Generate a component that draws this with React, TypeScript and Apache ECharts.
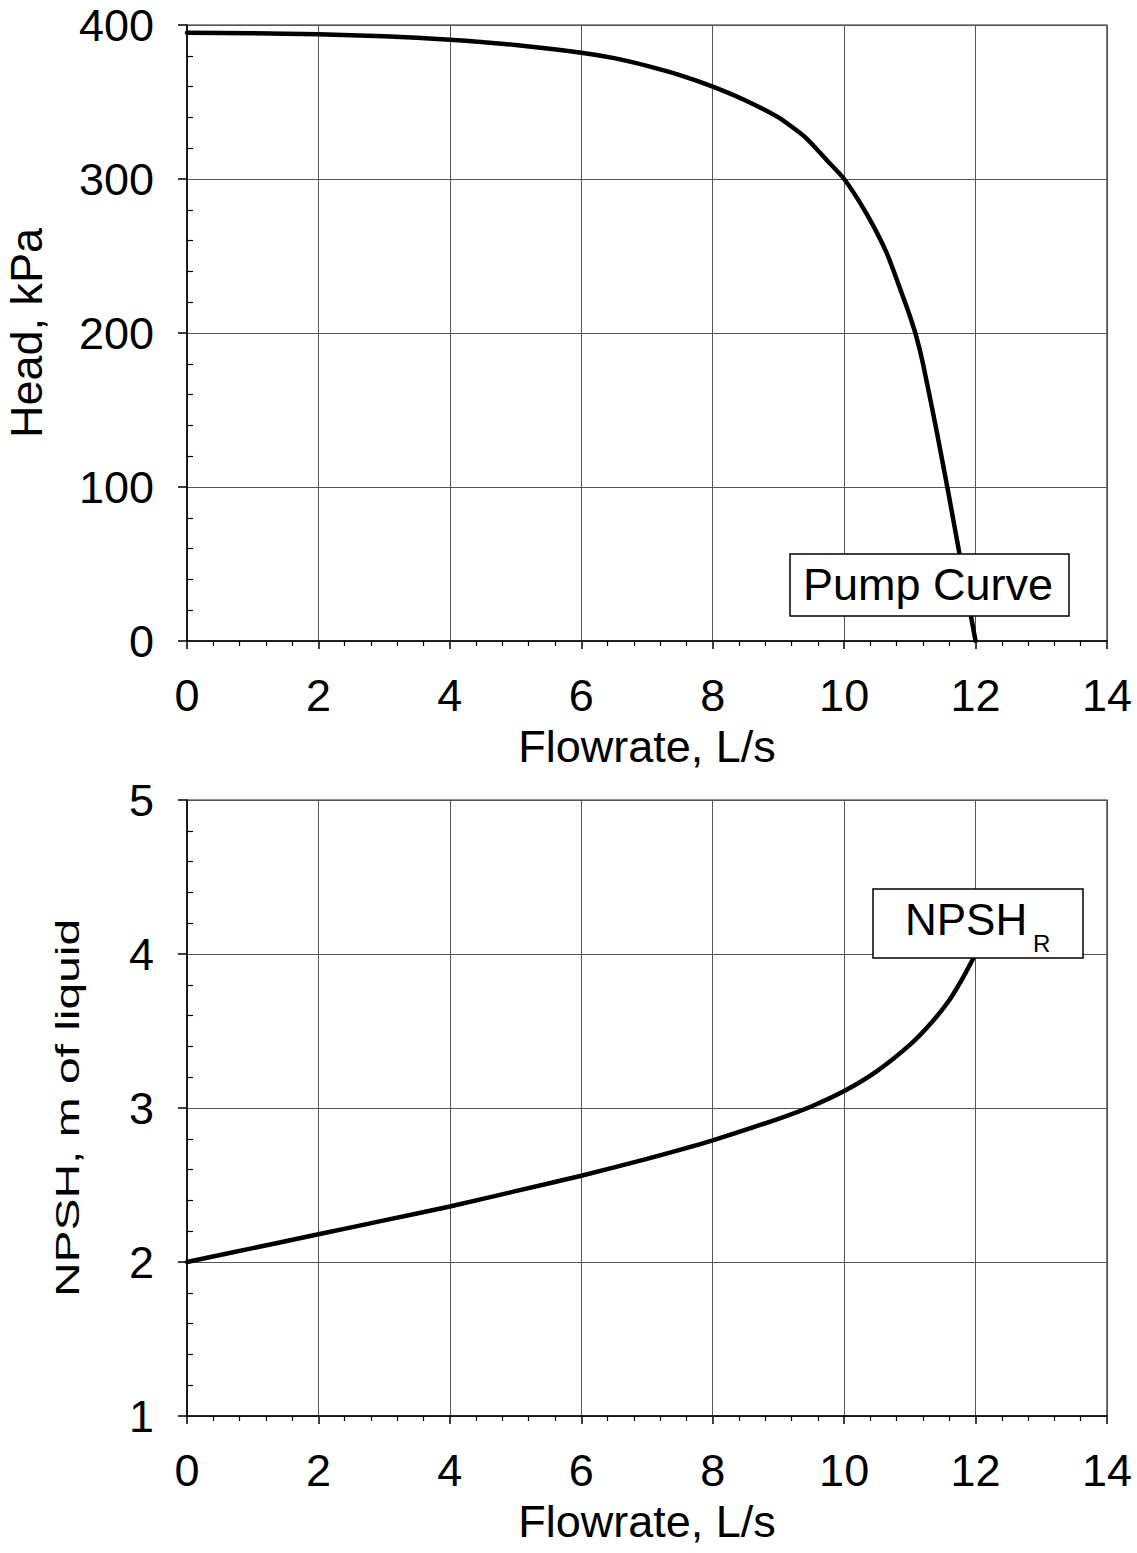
import React, { useEffect, useRef } from "react";
import * as echarts from "echarts";

const pumpFlow = [0, 1, 2, 3, 4, 5, 6, 6.5, 7, 7.5, 8, 8.5, 9, 9.41, 9.74, 10, 10.34, 10.65, 10.9, 11.0, 11.1, 11.2, 11.4, 11.6, 11.8, 12];
const pumpHead = [395, 394.7, 394, 392.7, 390.5, 387, 382, 378.5, 373.5, 367.5, 360, 351, 340, 327, 312, 300, 277.5, 251.7, 223, 211, 197.5, 180, 138, 93, 46, 0];

const npshFlow = [0, 1, 2, 3, 4, 5, 6, 7, 8, 9, 9.5, 10, 10.5, 11, 11.3, 11.6, 11.8, 12];
const npshReq = [2.0, 2.09, 2.18, 2.27, 2.36, 2.46, 2.56, 2.67, 2.79, 2.93, 3.01, 3.11, 3.24, 3.41, 3.54, 3.7, 3.84, 4.0];

const xTicks = { min: 0, max: 14, interval: 2 };
const headTicks = { min: 0, max: 400, interval: 100 };
const npshTicks = { min: 1, max: 5, interval: 1 };

const FONT = "'Liberation Sans', Arial, sans-serif";
const GRID_COLOR = "#555";

export default function App() {
  const ref = useRef<HTMLDivElement>(null);
  useEffect(() => {
    document.body.style.margin = "0";
    const chart = echarts.init(ref.current!, null, { renderer: "svg" });
    const xAxisBase = (gridIndex: number) => ({
      type: "value",
      gridIndex,
      min: xTicks.min,
      max: xTicks.max,
      interval: xTicks.interval,
      name: "Flowrate, L/s",
      nameLocation: "middle",
      nameGap: 83,
      nameTextStyle: { fontFamily: FONT, fontSize: 45, color: "#000" },
      axisLine: { show: true, onZero: false, lineStyle: { color: "#000", width: 1.5 } },
      axisTick: { show: true, length: 8, lineStyle: { color: "#000", width: 1.5 } },
      minorTick: { show: true, splitNumber: 5, length: 5, lineStyle: { color: "#000", width: 1.2 } },
      axisLabel: { fontFamily: FONT, fontSize: 45, color: "#000", margin: 32 },
      splitLine: { show: true, lineStyle: { color: GRID_COLOR, width: 1 } },
    });
    const yMain = (gridIndex: number, t: any, name: string, nameGap: number, nameSize: number) => ({
      type: "value",
      gridIndex,
      min: t.min,
      max: t.max,
      interval: t.interval,
      name,
      nameLocation: "middle",
      nameGap,
      nameTextStyle: { fontFamily: FONT, fontSize: nameSize, color: "#000" },
      axisLine: { show: true, onZero: false, lineStyle: { color: "#000", width: 1.5 } },
      axisTick: { show: true, length: 9, lineStyle: { color: "#000", width: 1.5 } },
      minorTick: { show: false },
      axisLabel: { fontFamily: FONT, fontSize: 45, color: "#000", margin: 33 },
      splitLine: { show: true, lineStyle: { color: GRID_COLOR, width: 1 } },
    });
    const yMinor = (gridIndex: number, t: any) => ({
      type: "value",
      gridIndex,
      position: "left",
      min: t.min,
      max: t.max,
      interval: t.interval,
      axisLine: { show: false, onZero: false },
      axisTick: { show: false, inside: true },
      minorTick: { show: true, splitNumber: 5, length: 6, lineStyle: { color: "#000", width: 1.2 } },
      axisLabel: { show: false },
      splitLine: { show: false },
    });

    const boxText = (x: number, y: number, w: number, h: number) => ({
      type: "rect",
      shape: { x, y, width: w, height: h },
      style: { fill: "#fff", stroke: "#000", lineWidth: 1.5 },
      z: 100,
    });

    const gridBase = {
      left: 187,
      width: 920,
      height: 616,
      show: true,
      borderColor: "#222",
      borderWidth: 1.2,
      backgroundColor: "transparent",
      containLabel: false,
      outerBoundsMode: "none",
    };

    chart.setOption({
      animation: false,
      backgroundColor: "#fff",
      grid: [
        { ...gridBase, top: 25 },
        { ...gridBase, top: 800 },
      ],
      xAxis: [xAxisBase(0), xAxisBase(1)],
      yAxis: [
        yMain(0, headTicks, "Head, kPa", 138, 45),
        { ...yMain(1, npshTicks, "", 0, 34), name: "" },
        yMinor(0, headTicks),
        yMinor(1, npshTicks),
      ],
      series: [
        {
          type: "line",
          xAxisIndex: 0,
          yAxisIndex: 0,
          data: pumpFlow.map((f, i) => [f, pumpHead[i]]),
          smooth: 0.2,
          symbol: "none",
          lineStyle: { color: "#000", width: 4.5, cap: "round" },
          z: 5,
        },
        {
          type: "line",
          xAxisIndex: 1,
          yAxisIndex: 1,
          data: npshFlow.map((f, i) => [f, npshReq[i]]),
          smooth: 0.25,
          symbol: "none",
          lineStyle: { color: "#000", width: 4.5, cap: "round" },
          z: 5,
        },
      ],
      graphic: [
        {
          type: "text",
          x: 67,
          y: 1108,
          rotation: Math.PI / 2,
          scaleX: 1.41,
          scaleY: 1,
          style: {
            text: "NPSH, m of liquid",
            fontFamily: FONT,
            fontSize: 34,
            fill: "#000",
            align: "center",
            verticalAlign: "middle",
          },
        },
        boxText(790, 554, 279, 62),
        {
          type: "text",
          left: 803,
          top: 562,
          z: 101,
          style: { text: "Pump Curve", fontFamily: FONT, fontSize: 45, fill: "#000" },
        },
        boxText(873, 889, 210, 69),
        {
          type: "text",
          left: 905,
          top: 897,
          z: 101,
          style: { text: "NPSH", fontFamily: FONT, fontSize: 44, fill: "#000" },
        },
        {
          type: "text",
          left: 1033,
          top: 931,
          z: 101,
          style: { text: "R", fontFamily: FONT, fontSize: 24, fill: "#000" },
        },
      ],
    });
    return () => chart.dispose();
  }, []);
  return <div ref={ref} style={{ width: 1137, height: 1553 }} />;
}
